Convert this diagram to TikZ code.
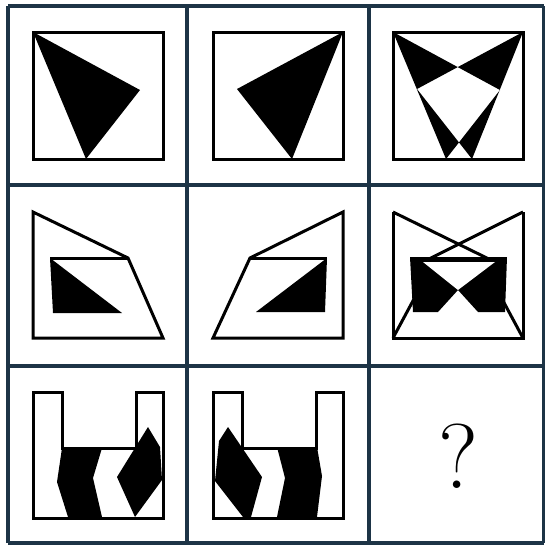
\documentclass[tikz,border=0pt]{standalone}
\definecolor{gridnavy}{HTML}{1D3446}
\tikzset{
  gridline/.style={draw=gridnavy,line width=3.2pt},
  figline/.style={draw=black,line width=3pt,line join=miter},
  figfill/.style={fill=black},
}
\newcommand{\frameU}{%
  \draw[figline] (0,1) -- (29,1) -- (29,57) -- (103,57) -- (103,1) -- (130,1)
    -- (130,127) -- (0,127) -- cycle;
}

\begin{document}
\begin{tikzpicture}[x=1pt,y=-1pt]
  \path[use as bounding box] (0,0) rectangle (545,547);
  \fill[white] (0,0) rectangle (545,547);

  % grid
  \foreach \gx in {8,187,369,544}
    \draw[gridline] (\gx,6) -- (\gx,543);
  \foreach \gy in {6,185,366,543}
    \draw[gridline] (8,\gy) -- (544,\gy);

  % row 1
  \begin{scope}[shift={(33,32)}]
    \fill[figfill] (0,0) -- (107,58) -- (53,127) -- cycle;
    \draw[figline] (0,0) rectangle (130,127);
  \end{scope}
  \begin{scope}[shift={(213,32)}]
    \fill[figfill] (130,0) -- (24,57) -- (79,127) -- cycle;
    \draw[figline] (0,0) rectangle (130,127);
  \end{scope}
  \begin{scope}[shift={(393,32)}]
    \fill[figfill,even odd rule] (0,0) -- (107,58) -- (53,127) -- cycle
      (130,0) -- (24,57) -- (79,127) -- cycle;
    \draw[figline] (0,0) rectangle (130,127);
  \end{scope}

  % row 2
  \begin{scope}[shift={(33,211)}]
    \fill[figfill] (17,47) -- (20,102) -- (89,102) -- cycle;
    \draw[figline] (0,1) -- (95,47) -- (130,127) -- (0,127) -- cycle;
    \draw[figline] (17,47) -- (95,47);
  \end{scope}
  \begin{scope}[shift={(213,211)}]
    \fill[figfill] (114,47) -- (112,101) -- (43,101) -- cycle;
    \draw[figline] (130,1) -- (130,127) -- (0,127) -- (37,47) -- cycle;
    \draw[figline] (37,47) -- (114,47);
  \end{scope}
  \begin{scope}[shift={(393,211)}]
    \draw[figline] (0,1) -- (0,127) -- (130,127) -- (130,1);
    \draw[figline] (0,1) -- (102,51);
    \draw[figline] (130,1) -- (30,51);
    \draw[figline] (0,127) -- (43,47);
    \draw[figline] (130,127) -- (87,47);
    \fill[figfill] (17,46) -- (114,46) -- (112,101) -- (85,101) -- (65,79)
      -- (45,101) -- (20,101) -- cycle;
    \fill[white] (30,51) -- (102,51) -- (65,79) -- cycle;
  \end{scope}

  % row 3
  \begin{scope}[shift={(33,391)}]
    \fill[figfill] (29,57) -- (69,57) -- (60,87) -- (69,126) -- (35,126) -- (24,91) -- cycle;
    \fill[figfill] (115,36) -- (127,56) -- (129,89) -- (102,126) -- (84,86) -- cycle;
    \frameU
  \end{scope}
  \begin{scope}[shift={(213,391)}]
    \fill[figfill] (15,36) -- (49,86) -- (38,126) -- (30,126) -- (2,90) -- (6,50) -- cycle;
    \fill[figfill] (64,56) -- (104,56) -- (109,85) -- (104,126) -- (64,126) -- (72,87) -- cycle;
    \frameU
  \end{scope}
  \node (qmark) at (458,456) {\fontsize{92}{92}\selectfont ?};
\end{tikzpicture}
\end{document}
